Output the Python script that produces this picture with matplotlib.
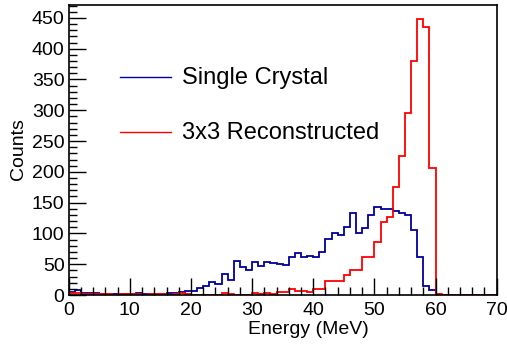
import numpy as np
import matplotlib
matplotlib.use("Agg")
import matplotlib.pyplot as plt
from matplotlib.lines import Line2D
from matplotlib.ticker import MultipleLocator

plt.rcParams['font.family'] = ['Liberation Sans', 'DejaVu Sans']

# 1 MeV bins from 0 to 70 MeV
bin_edges = np.arange(0, 71, 1)

single_crystal = [5, 8, 4, 3, 3, 2, 2, 2, 1, 1,
                  2, 3, 2, 1, 2, 2, 3, 3, 5, 7,
                  7, 12, 15, 21, 18, 34, 25, 56, 46, 41,
                  54, 47, 53, 52, 51, 48, 62, 68, 62, 64,
                  61, 70, 91, 100, 98, 111, 133, 100, 108, 130,
                  143, 140, 140, 137, 133, 130, 106, 62, 15, 8,
                  0, 0, 0, 0, 0, 0, 0, 0, 0, 0]

reconstructed = [3, 3, 2, 1, 1, 1, 1, 0, 1, 2,
                 1, 1, 0, 1, 1, 1, 0, 1, 3, 1,
                 0, 0, 0, 0, 0, 3, 2, 0, 0, 0,
                 3, 1, 4, 2, 5, 5, 10, 6, 7, 5,
                 9, 10, 22, 22, 22, 33, 40, 40, 61, 61,
                 86, 119, 127, 176, 225, 295, 380, 449, 435, 207,
                 1, 0, 0, 0, 0, 0, 0, 0, 0, 0]

labels = ["Single Crystal", "3x3 Reconstructed"]
colors = ["#000099", "#ff0000"]

W, H = 507, 345
fig = plt.figure(figsize=(W / 100, H / 100), dpi=100)
ax_l, ax_r, ax_t, ax_b = 68.7, 496.7, 4.7, 295.0
ax = fig.add_axes([ax_l / W, 1 - ax_b / H, (ax_r - ax_l) / W, (ax_b - ax_t) / H])

ax.stairs(single_crystal, bin_edges, color=colors[0], lw=1.3)
ax.stairs(reconstructed, bin_edges, color=colors[1], lw=1.3)

ax.set_xlim(0, 70)
ax.set_ylim(0, 1.05 * max(reconstructed))

ax.xaxis.set_major_locator(MultipleLocator(10))
ax.xaxis.set_minor_locator(MultipleLocator(2))
ax.yaxis.set_major_locator(MultipleLocator(50))
ax.yaxis.set_minor_locator(MultipleLocator(10))
ax.tick_params(which='both', direction='in', top=False, right=False,
               labelsize=14, color='black', width=1.0)
ax.tick_params(which='major', length=12)
ax.tick_params(which='minor', length=6)
ax.tick_params(axis='x', pad=5)
ax.tick_params(axis='y', pad=3)
for s in ax.spines.values():
    s.set_linewidth(1.2)
    s.set_color('black')

ax.set_xlabel("Energy (MeV)", fontsize=14, va='top')
ax.set_ylabel("Counts", fontsize=14, va='center')
ax.xaxis.set_label_coords((308 - ax_l) / (ax_r - ax_l), -(320.5 - ax_b) / (ax_b - ax_t))
ax.yaxis.set_label_coords(-(ax_l - 18.5) / (ax_r - ax_l), (ax_b - 149) / (ax_b - ax_t))

# legend entries
leg_y = [77.3, 132.3]
for lab, col, y in zip(labels, colors, leg_y):
    fig.add_artist(Line2D([120 / W, 171 / W], [1 - y / H, 1 - y / H],
                          color=col, lw=1.0))
    fig.text(181.7 / W, 1 - (y + 6.5) / H, lab, fontsize=17,
             ha='left', va='baseline', color='black')

fig.savefig("out.png", dpi=100)
